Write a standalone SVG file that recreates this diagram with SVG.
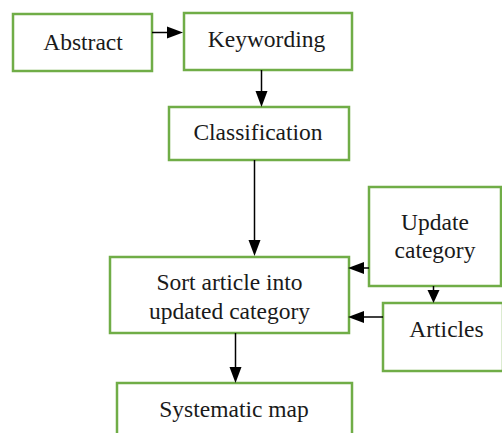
<svg xmlns="http://www.w3.org/2000/svg" width="502" height="433" viewBox="0 0 502 433">
<style>
.box{fill:#fff;stroke:#70AD47;stroke-width:2.5}
.t{font-size:23.5px;fill:#1a1a1a;text-anchor:middle}
.c{stroke:#000;stroke-width:1.5;fill:none}
.h{fill:#000}
</style>
<rect width="502" height="433" fill="#fff"/>
<g font-family="Liberation Serif, Times New Roman, DejaVu Serif, serif">
<g id="abstract"><rect class="box" x="13" y="14" width="139" height="57"/><text class="t" x="83" y="50">Abstract</text></g>
<g id="keywording"><rect class="box" x="184" y="13" width="168" height="57"/><text class="t" x="266.5" y="47">Keywording</text></g>
<g id="classification"><rect class="box" x="169" y="107" width="180" height="53"/><text class="t" x="258" y="140">Classification</text></g>
<g id="sort"><rect class="box" x="110" y="257" width="239" height="76"/><text class="t" x="229.5" y="290">Sort article into</text><text class="t" x="229.5" y="318.5">updated category</text></g>
<g id="update"><rect class="box" x="369" y="187" width="132" height="99"/><text class="t" x="435" y="230">Update</text><text class="t" x="435" y="258">category</text></g>
<g id="articles"><rect class="box" x="383" y="303" width="120" height="68"/><text class="t" x="446.5" y="337">Articles</text></g>
<g id="systematic"><rect class="box" x="117" y="383" width="235" height="60"/><text class="t" x="234" y="417">Systematic map</text></g>
</g>
<g id="connectors">
<path class="c" d="M152 32.5H168"/><path class="h" d="M183 32.5L167 26.5V38.5Z"/>
<path class="c" d="M261.5 70V92"/><path class="h" d="M261.5 107L255.5 91H267.5Z"/>
<path class="c" d="M254.5 160V241"/><path class="h" d="M254.5 256L248.5 240H260.5Z"/>
<path class="c" d="M369 268H363"/><path class="h" d="M348 268L364 262V274Z"/>
<path class="c" d="M433.5 286V291"/><path class="h" d="M433.5 303L427.5 290H439.5Z"/>
<path class="c" d="M383 317H363"/><path class="h" d="M348 317L364 311V323Z"/>
<path class="c" d="M235.5 333V368"/><path class="h" d="M235.5 383L229.5 367H241.5Z"/>
</g>
</svg>
